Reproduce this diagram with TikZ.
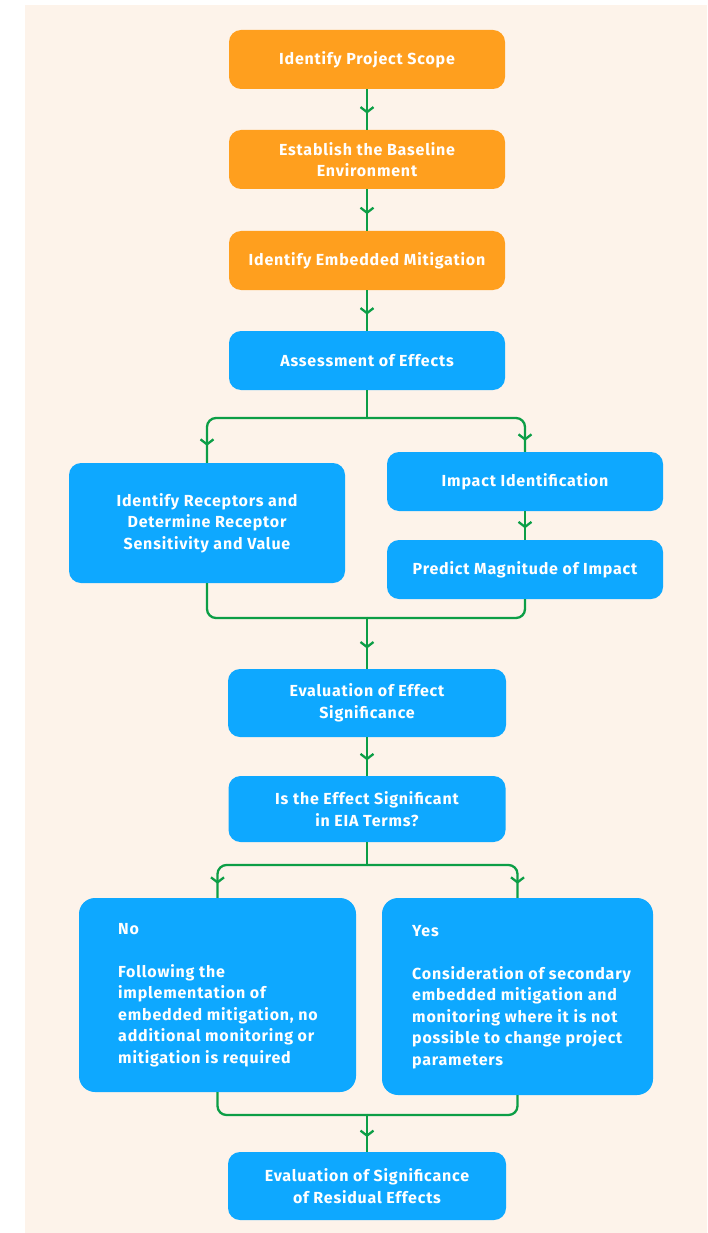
\documentclass[tikz,border=0pt]{standalone}
\usepackage{fontspec}
\setmainfont{Fira Sans}[LetterSpace=5]
\usetikzlibrary{arrows.meta,decorations.markings}

\definecolor{cream}{RGB}{253,243,234}
\definecolor{stepOrange}{RGB}{255,159,30}
\definecolor{stepBlue}{RGB}{14,168,255}
\definecolor{flowGreen}{RGB}{12,158,70}

\tikzset{
  stagebox/.style={rectangle, rounded corners=12pt, fill=stepBlue, text=white,
    font=\bfseries\fontsize{16}{21.5}\selectfont, align=center, inner sep=0pt,
    minimum width=276pt, minimum height=59pt},
  early/.style={stagebox, fill=stepOrange},
  bodytext/.style={text=white, font=\bfseries\fontsize{16}{21.5}\selectfont,
    align=left, inner sep=0pt, anchor=west},
  flow/.style={draw=flowGreen, line width=2.3pt, rounded corners=9pt},
  chevron/.style={postaction={decorate}, decoration={markings,
    mark=at position #1 with {\arrow[flowGreen, line width=2.3pt]{Straight Barb[length=5pt,width=13pt]}}}}
}

\begin{document}
\begin{tikzpicture}[x=1pt, y=-1pt]
  \useasboundingbox (0,0) rectangle (707,1233);
  \fill[cream] (25,5) rectangle (707,1233);

  % preparation stages
  \node[early] (scope) at (367,59.5) {Identify Project Scope};
  \node[early] (baseline) at (367,159.5) {Establish the Baseline\\Environment};
  \node[early] (embedded) at (367,260.5) {Identify Embedded Mitigation};

  % assessment stages
  \node[stagebox] (assess) at (367,360.5) {Assessment of Effects};
  \node[stagebox, minimum height=120pt] (receptors) at (207,523) {Identify Receptors and\\Determine Receptor\\Sensitivity and Value};
  \node[stagebox] (impact) at (525,481.5) {Impact Identification};
  \node[stagebox] (magnitude) at (525,569.5) {Predict Magnitude of Impact};
  \node[stagebox, minimum width=278pt, minimum height=68pt] (evalsig) at (367,703) {Evaluation of Effect\\Significance};
  \node[stagebox, minimum width=277pt, minimum height=66pt] (question) at (367,809) {Is the Effect Significant\\in EIA Terms?};

  % outcome boxes
  \node[stagebox, rounded corners=16pt, minimum width=277pt, minimum height=194pt] (nobox) at (217.5,995) {};
  \node[bodytext] (notext) at (118,995) {No\\[21.5pt]Following the\\implementation of\\embedded mitigation, no\\additional monitoring or\\mitigation is required};
  \node[stagebox, rounded corners=16pt, minimum width=271pt, minimum height=197pt] (yesbox) at (517.5,996.5) {};
  \node[bodytext] (yestext) at (412,997) {Yes\\[21.5pt]Consideration of secondary\\embedded mitigation and\\monitoring where it is not\\possible to change project\\parameters};

  \node[stagebox, minimum width=278pt, minimum height=68pt] (residual) at (367,1186) {Evaluation of Significance\\of Residual Effects};

  % junction points
  \coordinate (split1) at (367,418);
  \coordinate (join1) at (367,618);
  \coordinate (split2) at (367,865);
  \coordinate (join2) at (367,1115);

  % connectors
  \draw[flow, chevron=0.6] (scope.south) -- (baseline.north);
  \draw[flow, chevron=0.6] (baseline.south) -- (embedded.north);
  \draw[flow, chevron=0.6] (embedded.south) -- (assess.north);

  \draw[flow] (assess.south) -- (split1);
  \draw[flow, chevron=-17pt] (split1) -| (receptors.north);
  \draw[flow, chevron=-11pt] (split1) -| (impact.north);
  \draw[flow, chevron=0.6] (impact.south) -- (magnitude.north);

  \draw[flow] (receptors.south) |- (join1);
  \draw[flow] (magnitude.south) |- (join1);
  \draw[flow, chevron=0.6] (join1) -- (evalsig.north);

  \draw[flow, chevron=0.6] (evalsig.south) -- (question.north);

  \draw[flow] (question.south) -- (split2);
  \draw[flow, chevron=-14pt] (split2) -| (nobox.north);
  \draw[flow, chevron=-14pt] (split2) -| (yesbox.north);

  \draw[flow] (nobox.south) |- (join2);
  \draw[flow] (yesbox.south) |- (join2);
  \draw[flow, chevron=0.6] (join2) -- (residual.north);
\end{tikzpicture}
\end{document}
